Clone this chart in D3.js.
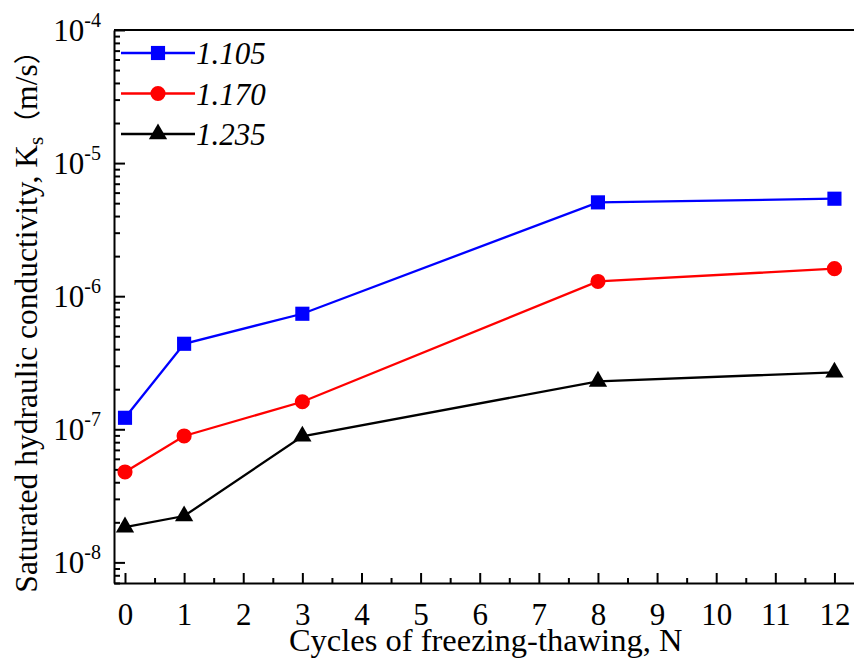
<!DOCTYPE html>
<html>
<head>
<meta charset="utf-8">
<script src="https://cdn.jsdelivr.net/npm/d3@7"></script>
<style>
  body { margin: 0; background: #fff; }
  svg text { font-family: "Liberation Serif", "Times New Roman", serif; fill: #000; }
  .axis path, .axis line { stroke: #000; stroke-width: 2; }
</style>
</head>
<body>
<div class="chart"></div>
<script>
// data
var cycles = [0, 1, 3, 8, 12];
var seriesNames = ["1.105", "1.170", "1.235"];
var ks1105 = [1.22e-7, 4.39e-7, 7.38e-7, 5.07e-6, 5.40e-6];
var ks1170 = [4.78e-8, 8.91e-8, 1.61e-7, 1.29e-6, 1.61e-6];
var ks1235 = [1.84e-8, 2.23e-8, 8.86e-8, 2.29e-7, 2.68e-7];
var xTicks = [0, 1, 2, 3, 4, 5, 6, 7, 8, 9, 10, 11, 12];
var yDecades = [-8, -7, -6, -5, -4];

var svgWidth = 854;
var svgHeight = 660;

var margin = { top: 30, right: -10, bottom: 77, left: 114 };
var width = svgWidth - margin.left - margin.right;
var height = svgHeight - margin.top - margin.bottom;

var svg = d3.select(".chart")
  .append("svg")
  .attr("width", svgWidth)
  .attr("height", svgHeight);

var chartGroup = svg.append("g")
  .attr("transform", `translate(${margin.left}, ${margin.top})`);

var xScale = d3.scaleLinear()
  .domain([-0.186, 12.5])
  .range([0, width]);

var yScale = d3.scaleLog()
  .domain([7e-9, 1e-4])
  .range([height, 0]);

// minor ticks
var xMinor = d3.range(-0.5, 12.6, 1).filter(d => d > -0.186);
var yMinor = [];
yDecades.forEach(function (e) {
  for (var m = 2; m <= 9; m++) {
    var v = m * Math.pow(10, e - 1);
    if (v >= 7e-9 && v < 1e-4) yMinor.push(v);
  }
});

// frame (top line)
chartGroup.append("line")
  .attr("x1", 0).attr("x2", width)
  .attr("y1", 0).attr("y2", 0)
  .attr("stroke", "#000")
  .attr("stroke-width", 2);

// x axis
chartGroup.append("g")
  .attr("class", "axis")
  .attr("transform", `translate(0, ${height})`)
  .call(d3.axisBottom(xScale).tickValues(xMinor).tickSize(-5).tickFormat(""))
  .call(g => g.select(".domain").remove());

var xAxis = chartGroup.append("g")
  .attr("class", "axis")
  .attr("transform", `translate(0, ${height})`)
  .call(d3.axisBottom(xScale).tickValues(xTicks).tickSize(-10).tickSizeOuter(0).tickPadding(20).tickFormat(d3.format("d")));

xAxis.selectAll("text")
  .style("font-size", "31px");

// y axis
chartGroup.append("g")
  .attr("class", "axis")
  .call(d3.axisLeft(yScale).tickValues(yMinor).tickSize(-6).tickFormat(""))
  .call(g => g.select(".domain").remove());

var yAxis = chartGroup.append("g")
  .attr("class", "axis")
  .call(d3.axisLeft(yScale).tickValues(yDecades.map(e => Math.pow(10, e))).tickSize(-11).tickSizeOuter(0).tickFormat(""));

yAxis.selectAll(".tick").each(function (d) {
  var t = d3.select(this).append("text")
    .attr("x", -13)
    .attr("y", 10)
    .attr("text-anchor", "end")
    .style("font-size", "31px");
  t.append("tspan").text("10");
  t.append("tspan")
    .attr("dy", -14)
    .style("font-size", "20px")
    .text(Math.round(Math.log10(d)));
});

// lines and markers
var allSeries = [
  { name: seriesNames[0], values: ks1105, color: "#0000ff", shape: d3.symbolSquare, size: 200 },
  { name: seriesNames[1], values: ks1170, color: "#ff0000", shape: d3.symbolCircle, size: 180 },
  { name: seriesNames[2], values: ks1235, color: "#000000", shape: d3.symbolTriangle, size: 145 }
];

var line = d3.line()
  .x(d => xScale(d[0]))
  .y(d => yScale(d[1]));

allSeries.forEach(function (s) {
  var pts = cycles.map((c, i) => [c, s.values[i]]);
  chartGroup.append("path")
    .datum(pts)
    .attr("d", line)
    .attr("fill", "none")
    .attr("stroke", s.color)
    .attr("stroke-width", 2.3);

  chartGroup.selectAll(null)
    .data(pts)
    .enter()
    .append("path")
    .attr("d", d3.symbol().type(s.shape).size(s.size))
    .attr("transform", d => `translate(${xScale(d[0])}, ${yScale(d[1])})`)
    .attr("fill", s.color);
});

// legend
var legend = chartGroup.append("g")
  .attr("transform", "translate(7, 23)");

allSeries.forEach(function (s, i) {
  var row = legend.append("g")
    .attr("transform", `translate(0, ${i * 40.5})`);
  row.append("line")
    .attr("x1", 0).attr("x2", 74)
    .attr("stroke", s.color)
    .attr("stroke-width", 2.3);
  row.append("path")
    .attr("d", d3.symbol().type(s.shape).size(s.size))
    .attr("transform", "translate(37, 0)")
    .attr("fill", s.color);
  row.append("text")
    .attr("x", 75)
    .attr("y", 11)
    .style("font-size", "31px")
    .style("font-style", "italic")
    .text(s.name);
});

// axis titles
svg.append("text")
  .attr("x", margin.left + xScale(6.1))
  .attr("y", 651)
  .attr("text-anchor", "middle")
  .style("font-size", "32.5px")
  .text("Cycles of freezing-thawing, N");

var yTitle = svg.append("text")
  .attr("transform", "translate(37, 315) rotate(-90)")
  .attr("text-anchor", "middle")
  .style("font-size", "31.5px");
yTitle.append("tspan").text("Saturated hydraulic conductivity, K");
yTitle.append("tspan")
  .attr("dy", 6)
  .style("font-size", "21px")
  .text("s");
yTitle.append("tspan")
  .attr("dy", -6)
  .style("font-family", "'Noto Sans CJK SC', sans-serif")
  .style("font-size", "27px")
  .text("（");
yTitle.append("tspan").text("m/s");
yTitle.append("tspan")
  .style("font-family", "'Noto Sans CJK SC', sans-serif")
  .style("font-size", "27px")
  .text("）");
</script>
</body>
</html>
